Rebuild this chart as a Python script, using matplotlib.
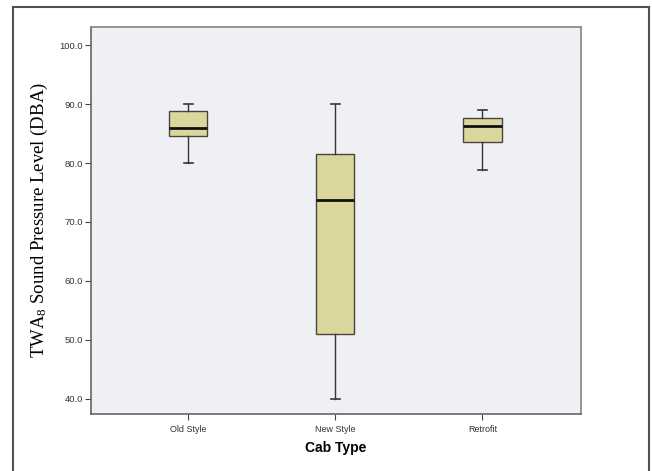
import matplotlib
matplotlib.use("Agg")
import matplotlib.pyplot as plt
from matplotlib.lines import Line2D

plt.rcParams["mathtext.fontset"] = "custom"
plt.rcParams["mathtext.rm"] = "Liberation Serif"
plt.rcParams["mathtext.it"] = "Liberation Serif:italic"

categories = ["Old Style", "New Style", "Retrofit"]
whisker_low = [80.0, 40.0, 78.8]
q1 = [84.6, 51.0, 83.6]
median = [86.0, 73.7, 86.3]
q3 = [88.9, 81.6, 87.7]
whisker_high = [90.0, 90.0, 89.0]
yticks = [40, 50, 60, 70, 80, 90, 100]

fig = plt.figure(figsize=(6.52, 4.71), dpi=100)
fig.patch.set_facecolor("white")
ax = fig.add_axes([91/652, 1 - 414/471, (581-91)/652, (414-27)/471])
ax.set_facecolor("#eef0f3")

stats = []
for i, c in enumerate(categories):
    stats.append(dict(label=c, whislo=whisker_low[i], q1=q1[i], med=median[i],
                      q3=q3[i], whishi=whisker_high[i], fliers=[]))

ax.bxp(stats, positions=[1, 2, 3], widths=0.26, showfliers=False, patch_artist=True,
       capwidths=0.06,
       boxprops=dict(facecolor="#dbd79c", edgecolor="#4a4440", linewidth=1.0),
       medianprops=dict(color="#111111", linewidth=2.0),
       whiskerprops=dict(color="#3a3430", linewidth=1.0),
       capprops=dict(color="#3a3430", linewidth=1.2))

ax.set_xlim(0.34, 3.67)
ax.set_ylim(37.4, 103.1)
ax.set_yticks(yticks)
ax.set_yticklabels([f"{v:.1f}" for v in yticks], fontsize=6.8, family="Liberation Sans", color="#333333")
ax.set_xticks([1, 2, 3])
ax.set_xticklabels(categories, fontsize=6.5, family="Liberation Sans", color="#333333")
ax.tick_params(axis="both", direction="out", length=4, width=0.8, color="#444444")
ax.tick_params(axis="y", pad=1.5)
ax.tick_params(axis="x", pad=4)
for s in ax.spines.values():
    s.set_color("#6a6460")
    s.set_linewidth(1.2)
ax.spines["top"].set_color("#8a8480")
ax.spines["right"].set_color("#8a8480")

ax.set_xlabel("Cab Type", fontsize=10, fontweight="bold", family="Liberation Sans", labelpad=5)
ax.set_ylabel("TWA$_8$ Sound Pressure Level (DBA)", fontsize=13.5, family="Liberation Serif", labelpad=7)

# outer frame
fig.add_artist(Line2D([13/652, 13/652], [0, 1 - 7/471], transform=fig.transFigure, color="#555050", lw=1.5))
fig.add_artist(Line2D([13/652, 649/652], [1 - 7/471, 1 - 7/471], transform=fig.transFigure, color="#555050", lw=1.5))
fig.add_artist(Line2D([649/652, 649/652], [0, 1 - 7/471], transform=fig.transFigure, color="#555050", lw=1.5))

fig.savefig("out.png", dpi=100)
